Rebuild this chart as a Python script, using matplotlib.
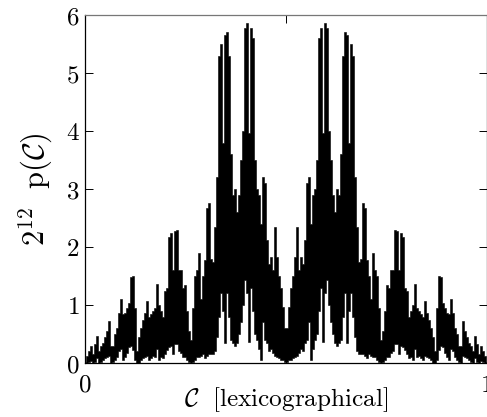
import matplotlib
matplotlib.use("Agg")
import matplotlib.pyplot as plt
import numpy as np

plt.rcParams["mathtext.fontset"] = "cm"

p_peak = [
    .02, .12, .20, .30, .15, .33, .46, .20, .30, .35,
    .45, .55, .72, .30, .30, .50, .60, .87, 1.1, .85,
    .87, .95, 1.03, 1.48, 1.5, .95, .20, .45, .60, .75,
    .87, 1.07, .80, .85, .90, .95, 1.36, 1.0, .90, .80,
    1.25, 1.3, 2.18, 2.25, 1.6, 2.27, 2.3, 1.6, 1.6, 1.3,
    1.35, .90, .55, .40, .95, 1.5, 1.6, 1.9, 1.1, 1.5,
    1.78, 2.67, 2.76, 1.8, 1.75, 2.35, 3.2, 5.3, 5.5, 3.8,
    5.65, 5.7, 5.3, 3.6, 2.9, 3.0, 2.6, 2.9, 3.5, 4.0,
    5.77, 5.87, 3.97, 5.77, 5.6, 3.5, 3.0, 2.9, 2.4, 3.2,
    3.1, 2.12, 1.7, 1.83, 1.6, 2.35, 1.83, 1.5, 1.3, .97,
    .60,
]
p_trough = [
    .00, .00, .02, .03, .00, .02, .08, .00, .02, .05,
    .08, .10, .12, .00, .02, .05, .10, .20, .25, .05,
    .10, .18, .28, .30, .22, .05, .00, .00, .05, .08,
    .10, .12, .05, .08, .12, .10, .25, .05, .10, .08,
    .15, .22, .28, .30, .15, .32, .32, .20, .18, .10,
    .10, .05, .02, .00, .02, .05, .10, .10, .12, .15,
    .08, .12, .15, .15, .15, .20, .45, .80, 1.2, .90,
    .35, 1.2, .80, .40, .35, .30, .35, .50, .70, 1.0,
    1.43, 1.2, .37, 1.3, .90, .50, .40, .25, .06, .70,
    .40, .35, .20, .25, .17, .12, .10, .08, .05, .05,
    .02,
]
y_ticks = [0, 1, 2, 3, 4, 5, 6]
x_ticks = [0, 0.5, 1]
x_tick_labels = ["$0$", "", "$1$"]

peak = np.array(p_peak + p_peak[::-1])
trough = np.array(p_trough + p_trough[::-1])
config = np.linspace(0, 1, len(peak))

fig = plt.figure(figsize=(4.87, 4.17), dpi=100)
ax = fig.add_axes([85 / 487, 54 / 417, 401.5 / 487, 348 / 417])
ax.fill_between(config, trough, peak, step="mid", color="black", linewidth=0.4)

ax.set_xlim(0, 1)
ax.set_ylim(0, 6)
ax.set_yticks(y_ticks)
ax.set_yticklabels([f"${v}$" for v in y_ticks])
ax.set_xticks(x_ticks)
ax.set_xticklabels(x_tick_labels)
ax.tick_params(direction="in", length=6, width=0.7, top=True, right=True, labelsize=18)
ax.tick_params(axis="x", pad=7)
ax.tick_params(axis="y", pad=4)
ax.spines["top"].set_color("#777777")
for spine in ax.spines.values():
    spine.set_linewidth(0.9)

ax.set_xlabel(r"$\mathcal{C}\ \ \mathrm{[lexicographical]}$", fontsize=18.2, labelpad=-8)
ax.set_ylabel(r"$2^{12}\ \ \mathrm{p}(\mathcal{C})$", fontsize=22, labelpad=8)

fig.savefig("out.png", dpi=100)
